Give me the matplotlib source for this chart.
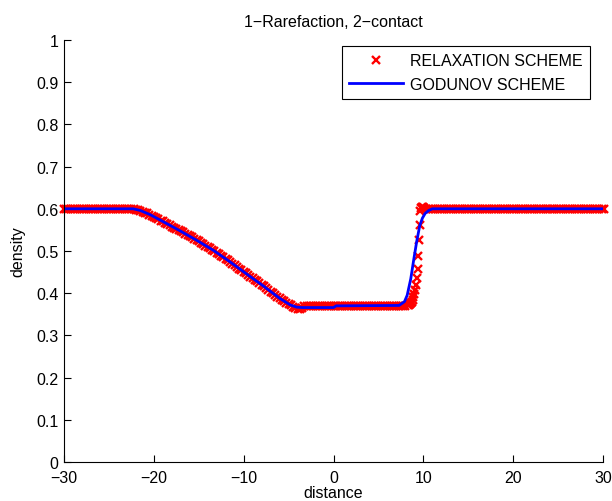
import numpy as np
import matplotlib
matplotlib.use("Agg")
import matplotlib.pyplot as plt

plt.rcParams['font.family'] = ['Liberation Sans', 'DejaVu Sans']

# relaxation scheme: constant states
left_rho = 0.600
mid_rho = 0.370
right_rho = 0.600
dx = 0.25

# relaxation scheme: rarefaction fan, one value per cell starting at x = -22.25
rare_x0 = -22.25
rare_rho = [0.599, 0.598, 0.597, 0.595, 0.593, 0.591, 0.589, 0.586,
            0.584, 0.581, 0.578, 0.575, 0.572, 0.570, 0.567, 0.564,
            0.561, 0.558, 0.555, 0.552, 0.549, 0.547, 0.544, 0.541,
            0.538, 0.535, 0.532, 0.529, 0.526, 0.523, 0.519, 0.516,
            0.513, 0.510, 0.507, 0.503, 0.500, 0.496, 0.492, 0.489,
            0.485, 0.481, 0.478, 0.474, 0.470, 0.466, 0.462, 0.458,
            0.454, 0.451, 0.447, 0.443, 0.439, 0.435, 0.431, 0.428,
            0.424, 0.420, 0.416, 0.412, 0.408, 0.404, 0.400, 0.396,
            0.392, 0.388, 0.384, 0.381, 0.377, 0.374, 0.371, 0.368,
            0.365, 0.363, 0.363, 0.366]

# relaxation scheme: contact discontinuity
contact_x = [8.3, 8.4, 8.5, 8.6, 8.7, 8.8, 8.9, 9.0, 9.1, 9.2,
             9.3, 9.37, 9.45, 9.55, 9.62, 9.68, 9.78, 9.88, 9.97, 10.1]
contact_rho = [0.371, 0.372, 0.374, 0.377, 0.380, 0.384, 0.390, 0.399, 0.408, 0.420,
               0.436, 0.458, 0.489, 0.526, 0.562, 0.594, 0.603, 0.604, 0.604, 0.602]

# godunov scheme
god_x = [-30.0, -22.3, -21.5, -20.4, -19.0, -17.1, -15.2, -13.4, -11.5, -9.7,
         -7.8, -6.0, -4.8, -4.1, -3.5, 0.0, 0.3, 7.3, 7.9, 8.2,
         8.6, 8.95, 9.25, 9.6, 9.9, 10.2, 10.6, 11.0, 30.0]
god_rho = [0.600, 0.600, 0.596, 0.586, 0.570, 0.548, 0.525, 0.502, 0.474, 0.446,
           0.417, 0.388, 0.372, 0.367, 0.366, 0.366, 0.370, 0.371, 0.380, 0.395,
           0.434, 0.482, 0.521, 0.560, 0.578, 0.589, 0.596, 0.600, 0.600]

xticks = [-30, -20, -10, 0, 10, 20, 30]
yticks = [0, 0.1, 0.2, 0.3, 0.4, 0.5, 0.6, 0.7, 0.8, 0.9, 1]
ytick_labels = ['0', '0.1', '0.2', '0.3', '0.4', '0.5', '0.6', '0.7', '0.8', '0.9', '1']

# assemble relaxation cells
x_left = np.arange(-30.0, rare_x0 - dx / 2, dx)
x_rare = rare_x0 + dx * np.arange(len(rare_rho))
x_mid = np.arange(x_rare[-1] + dx, contact_x[0] - dx / 2, dx)
x_right = np.arange(contact_x[-1] + dx, 30.0 + dx / 2, dx)

relax_x = np.concatenate([x_left, x_rare, x_mid, contact_x, x_right])
relax_rho = np.concatenate([np.full(len(x_left), left_rho), rare_rho,
                            np.full(len(x_mid), mid_rho), contact_rho,
                            np.full(len(x_right), right_rho)])

fig = plt.figure(figsize=(6.12, 5.02), dpi=100)
ax = fig.add_axes([64 / 612, 39 / 502, 539 / 612, 422 / 502])

ax.plot(relax_x, relax_rho, 'x', color='#ff0000', markersize=5.5, markeredgewidth=1.7,
        clip_on=False, label='RELAXATION SCHEME')
ax.plot(god_x, god_rho, '-', color='#0000ff', linewidth=2.0, label='GODUNOV SCHEME')

ax.set_xlim(-30, 30)
ax.set_ylim(0, 1)
ax.set_xticks(xticks)
ax.set_yticks(yticks)
ax.set_yticklabels(ytick_labels)
ax.spines['top'].set_visible(False)
ax.spines['right'].set_visible(False)
for s in ['left', 'bottom']:
    ax.spines[s].set_linewidth(0.8)
ax.tick_params(direction='in', length=5, width=0.8, labelsize=11.5)
ax.tick_params(axis='x', pad=6)
ax.tick_params(axis='y', pad=4)

ax.set_title('1\u2212Rarefaction, 2\u2212contact', fontsize=11.5, pad=10)
ax.set_xlabel('distance', fontsize=11.5, labelpad=0)
ax.set_ylabel('density', fontsize=11.5, labelpad=8)

leg = ax.legend(loc='upper right', bbox_to_anchor=(590 / 612, 1 - 47 / 502),
                bbox_transform=fig.transFigure, numpoints=1, fontsize=11.5,
                handlelength=3.4, handletextpad=0.45, borderpad=0.45,
                labelspacing=0.55, fancybox=False, framealpha=1, borderaxespad=0)
leg.get_frame().set_edgecolor('black')
leg.get_frame().set_linewidth(0.8)

fig.savefig('out.png', dpi=100)
